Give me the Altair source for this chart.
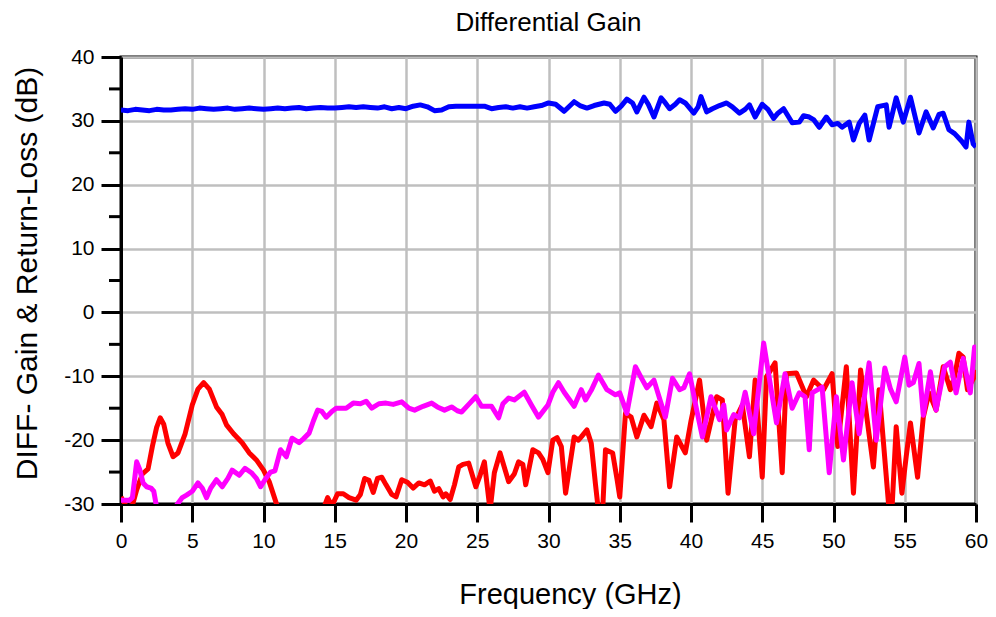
import altair as alt
import pandas as pd

# ---------------- data ----------------
blue_x = [0, 0.5, 1, 1.5, 2, 2.5, 3, 3.5, 4, 4.5, 5, 5.5, 6, 6.5, 7, 7.5, 8, 8.5, 9, 9.5,
          10, 10.5, 11, 11.5, 12, 12.5, 13, 13.5, 14, 14.5, 15, 15.5, 16, 16.5, 17, 17.5,
          18, 18.5, 19, 19.5, 20, 20.5, 21, 21.5, 22, 22.5, 23, 23.5, 24, 24.5, 25, 25.5,
          26, 26.5, 27, 27.5, 28, 28.5, 29, 29.5, 30, 30.5, 31.1, 31.8, 32.2, 32.7, 33.2,
          33.9, 34.3, 34.7, 35.1, 35.5, 35.9, 36.2, 36.7, 37.0, 37.4, 37.9, 38.2, 38.5,
          38.9, 39.2, 39.6, 40.2, 40.5, 40.7, 41.1, 41.5, 42.0, 42.5, 42.9, 43.4, 43.8,
          44.1, 44.5, 45.0, 45.4, 45.8, 46.1, 46.5, 47.1, 47.6, 47.9, 48.3, 48.6, 49.0,
          49.5, 49.9, 50.3, 50.6, 51.1, 51.4, 51.8, 52.2, 52.5, 53.1, 53.7, 53.9, 54.4,
          54.9, 55.4, 56.0, 56.5, 57.0, 57.4, 57.7, 58.1, 58.5, 59.0, 59.3, 59.5, 59.8, 60.0]
blue_y = [31.7, 31.6, 31.8, 31.7, 31.6, 31.8, 31.7, 31.7, 31.8, 31.9, 31.8, 32.0, 31.9, 31.8,
          31.9, 32.0, 31.8, 31.9, 32.0, 31.9, 31.8, 31.9, 32.0, 31.9, 32.0, 32.1, 31.9, 32.0,
          32.1, 32.0, 32.0, 32.1, 32.2, 32.1, 32.2, 32.1, 32.0, 32.2, 31.9, 32.1, 31.9, 32.3,
          32.5, 32.2, 31.6, 31.7, 32.2, 32.3, 32.3, 32.3, 32.3, 32.3, 31.9, 32.1, 32.2, 32.0,
          32.2, 32.0, 32.2, 32.4, 32.8, 32.6, 31.5, 33.0, 32.4, 32.0, 32.4, 32.8, 32.6, 31.5,
          32.3, 33.4, 32.8, 31.4, 33.7, 32.6, 30.6, 33.6, 32.8, 31.9, 32.6, 33.3, 32.8, 31.2,
          32.2, 33.8, 31.4, 31.9, 32.4, 32.8, 32.2, 31.2, 31.8, 32.5, 30.6, 32.6, 31.8, 30.4,
          31.2, 31.9, 29.7, 29.8, 30.8, 30.6, 30.2, 29.0, 30.6, 29.4, 29.6, 29.0, 29.8, 27.0,
          29.6, 30.9, 27.0, 32.2, 32.5, 29.0, 33.6, 29.8, 33.7, 28.1, 31.4, 28.9, 31.0, 31.2,
          28.6, 28.0, 26.8, 25.9, 29.8, 26.4, 25.9]

red_x = [0, 0.4, 0.8, 1.1, 1.5, 1.9, 2.2, 2.5, 2.75, 3.0, 3.3, 3.65, 4.0, 4.5, 5.0, 5.4, 5.8,
         6.2, 6.7, 7.1, 7.4, 7.9, 8.5, 9.0, 9.5, 10.0, 10.4, 10.9, 11.3, 12.0, 13.0, 14.0,
         14.5, 14.8, 15.2, 15.6, 16.0, 16.5, 16.8, 17.1, 17.4, 17.7, 18.0, 18.3, 18.6, 19.0,
         19.3, 19.7, 20.1, 20.5, 20.9, 21.3, 21.7, 22.0, 22.3, 22.6, 22.8, 23.1, 23.4, 23.7,
         24.0, 24.4, 24.9, 25.2, 25.5, 25.9, 26.2, 26.6, 27.2, 27.6, 27.9, 28.2, 28.4, 28.9,
         29.3, 29.6, 29.96, 30.3, 30.6, 30.9, 31.2, 31.8, 32.1, 32.3, 32.7, 33.0, 33.3, 33.5,
         33.8, 34.0, 34.5, 34.8, 35.0, 35.4, 35.8, 36.2, 36.7, 37.2, 37.6, 38.1, 38.5, 39.0,
         39.6, 40.0, 40.6, 41.1, 41.8, 42.2, 42.6, 43.1, 43.6, 44.1, 44.5, 45.0, 45.3, 45.9,
         46.4, 46.7, 47.4, 48.1, 48.6, 49.3, 49.9, 50.3, 50.9, 51.4, 51.9, 52.8, 53.2, 53.9,
         54.1, 54.4, 54.8, 55.1, 55.4, 55.9, 56.3, 56.7, 57.2, 57.7, 58.2, 58.5, 58.8, 59.1,
         59.4, 59.9, 60.0]
red_y = [-28.9, -30.5, -30.2, -27.8, -25.3, -24.5, -21.0, -18.0, -16.5, -17.5, -20.5, -22.6,
         -22.0, -19.0, -14.5, -12.0, -11.0, -12.0, -14.8, -16.0, -17.6, -19.0, -20.4, -22.0,
         -23.1, -24.7, -26.5, -29.9, -32.0, -34.0, -35.0, -32.0, -29.0, -30.3, -28.4, -28.4,
         -29.0, -29.4, -28.5, -26.0, -26.3, -28.2, -26.0, -25.8, -27.0, -28.5, -28.9, -26.2,
         -26.6, -27.5, -26.7, -27.0, -26.4, -28.0, -27.6, -28.9, -28.4, -29.3, -27.0, -24.2,
         -23.8, -23.6, -27.3, -25.5, -23.4, -31.0, -25.1, -22.0, -26.5, -25.3, -23.4, -23.8,
         -27.0, -21.5, -22.0, -23.0, -25.1, -20.0, -19.6, -21.0, -28.3, -19.5, -20.0, -19.5,
         -18.4, -20.5, -27.0, -31.0, -31.0, -21.5, -22.0, -26.0, -28.9, -15.8, -16.4, -19.5,
         -16.1, -17.9, -14.2, -16.8, -27.3, -19.5, -22.0, -17.0, -10.6, -20.0, -13.2, -13.7,
         -28.3, -16.8, -14.5, -22.6, -10.6, -25.8, -10.1, -7.9, -25.1, -9.6, -9.5, -13.2,
         -10.6, -12.1, -9.6, -21.0, -8.5, -28.3, -9.0, -24.2, -12.1, -31.0, -31.0, -17.9,
         -28.3, -22.6, -17.3, -25.8, -16.4, -12.6, -15.3, -8.5, -12.1, -10.0, -6.4, -7.0,
         -12.1, -10.0, -9.0]

mag_x = [0, 0.6, 0.8, 1.1, 1.3, 1.55, 1.8, 2.1, 2.3, 2.5, 3.0, 3.5, 3.9, 4.3, 4.6, 5.0, 5.4,
         5.7, 6.0, 6.3, 6.7, 7.1, 7.5, 7.8, 8.3, 8.7, 9.15, 9.5, 9.8, 10.1, 10.5, 10.8, 11.2,
         11.6, 12.0, 12.5, 12.8, 13.2, 13.5, 13.8, 14.1, 14.4, 14.8, 15.1, 15.5, 15.8, 16.3,
         16.8, 17.2, 17.6, 18.1, 18.6, 19.1, 19.7, 20.2, 20.6, 21.2, 21.8, 22.2, 22.7, 23.2,
         23.6, 23.9, 24.4, 24.9, 25.3, 26.0, 26.5, 26.8, 27.2, 27.6, 28.3, 28.8, 29.3, 29.96,
         30.3, 30.7, 31.1, 31.8, 32.3, 32.6, 33.0, 33.5, 34.1, 34.7, 35.0, 35.5, 36.1, 36.6,
         36.9, 37.4, 38.2, 38.7, 39.2, 39.5, 39.9, 40.4, 40.8, 41.4, 42.0, 42.3, 42.5, 43.0,
         43.4, 43.8, 44.4, 45.1, 46.0, 46.6, 47.1, 47.6, 48.0, 48.3, 48.5, 49.2, 49.7, 50.2,
         50.7, 51.3, 51.8, 52.5, 53.0, 53.6, 54.0, 54.4, 55.0, 55.3, 55.6, 56.0, 56.3, 56.8,
         57.2, 57.8, 58.2, 58.6, 59.1, 59.6, 59.9, 60.0]
mag_y = [-29.4, -29.4, -29.0, -23.4, -24.5, -26.7, -27.3, -27.5, -28.0, -30.5, -33.0, -32.0,
         -30.2, -29.0, -28.6, -28.0, -26.7, -27.5, -29.0, -27.5, -26.2, -27.3, -26.0, -24.7,
         -25.5, -24.4, -25.1, -26.0, -27.3, -26.2, -25.0, -24.8, -21.5, -22.6, -19.7, -20.4,
         -19.8, -18.9, -17.0, -15.3, -15.5, -16.4, -15.5, -15.0, -15.0, -15.0, -14.2, -14.3,
         -13.9, -15.0, -14.3, -14.2, -14.4, -14.0, -15.0, -15.3, -14.7, -14.2, -14.8, -15.3,
         -14.8, -15.4, -15.6, -14.4, -13.2, -14.7, -14.7, -16.5, -14.3, -13.4, -13.7, -12.5,
         -14.5, -16.4, -14.5, -12.5, -11.0, -12.5, -14.7, -12.1, -13.7, -12.2, -9.8, -12.1,
         -12.9, -12.6, -15.8, -8.5, -10.6, -11.8, -10.6, -16.4, -10.3, -12.1, -11.8, -9.6,
         -15.3, -19.5, -13.2, -16.8, -14.5, -18.4, -16.0, -16.5, -12.5, -19.0, -4.8, -17.3,
         -9.6, -15.0, -12.6, -13.2, -21.5, -12.6, -11.7, -25.1, -13.2, -23.1, -11.0, -19.0,
         -7.9, -20.0, -8.7, -12.0, -14.0, -7.0, -11.4, -11.0, -8.0, -16.1, -9.3, -15.3, -8.5,
         -7.8, -12.6, -7.2, -12.6, -5.4, -6.0]

series_names = ["Gain", "Return-Loss 1", "Return-Loss 2"]
series_colors = ["#0000ff", "#ff0000", "#ff00ff"]

x_ticks = list(range(0, 61, 5))
y_ticks = list(range(-30, 41, 10))
y_minor = [-25, -15, -5, 5, 15, 25, 35]

# ---------------- build table ----------------
rows = []
for name, xs, ys in [(series_names[0], blue_x, blue_y),
                     (series_names[1], red_x, red_y),
                     (series_names[2], mag_x, mag_y)]:
    for i, (a, b) in enumerate(zip(xs, ys)):
        rows.append({"series": name, "freq": a, "val": b, "idx": i})
df = pd.DataFrame(rows)
minor_df = pd.DataFrame({"y": y_minor})

FONT = "Liberation Sans"

x_enc = alt.X("freq:Q", scale=alt.Scale(domain=[0, 60], nice=False, zero=False),
              axis=alt.Axis(values=x_ticks, title="Frequency (GHz)", titleFontSize=29,
                            titleFont=FONT, titleFontWeight="normal", titleX=449, titleY=99,
                            titleBaseline="alphabetic", titleAlign="center",
                            labelFontSize=21, labelFont=FONT, labelPadding=8,
                            labelFlush=False, labelExpr="datum.value + ''",
                            tickSize=18, tickWidth=3, tickColor="black",
                            domainColor="black", domainWidth=3,
                            gridColor="#bfbfbf", gridWidth=2.5, labelColor="black",
                            titleColor="black"))
y_enc = alt.Y("val:Q", scale=alt.Scale(domain=[-30, 40], nice=False, zero=False),
              axis=alt.Axis(values=y_ticks, title="DIFF- Gain & Return-Loss (dB)",
                            titleFontSize=30, titleFont=FONT, titleFontWeight="normal",
                            titleX=-85, titleY=216, titleBaseline="alphabetic",
                            titleAlign="center", titleAngle=-90,
                            labelFontSize=21, labelFont=FONT, labelPadding=7,
                            labelFlush=False, labelExpr="datum.value + ''",
                            tickSize=20, tickWidth=3, tickColor="black",
                            domainColor="black", domainWidth=3,
                            gridColor="#bfbfbf", gridWidth=2.5, labelColor="black",
                            titleColor="black"))

lines = alt.Chart(df).mark_line(strokeWidth=5, clip=True, strokeJoin="round").encode(
    x=x_enc,
    y=y_enc,
    color=alt.Color("series:N", scale=alt.Scale(domain=series_names, range=series_colors),
                    legend=None),
    order="idx:Q",
    detail="series:N",
)

minor = alt.Chart(minor_df).mark_rule(color="black", strokeWidth=3).encode(
    y=alt.Y("y:Q"),
    x=alt.value(-12),
    x2=alt.value(0),
)

chart = alt.layer(lines, minor).properties(
    width=855,
    height=447,
    title=alt.TitleParams("Differential Gain", fontSize=26, font=FONT, fontWeight="normal",
                          anchor="middle", color="black", offset=10),
    autosize=alt.AutoSizeParams(type="none"),
    padding={"left": 113, "top": 49, "right": 12, "bottom": 105},
).configure_view(stroke="black", strokeWidth=3)

chart.save("out.html", embed_options={"renderer": "svg", "actions": False})
